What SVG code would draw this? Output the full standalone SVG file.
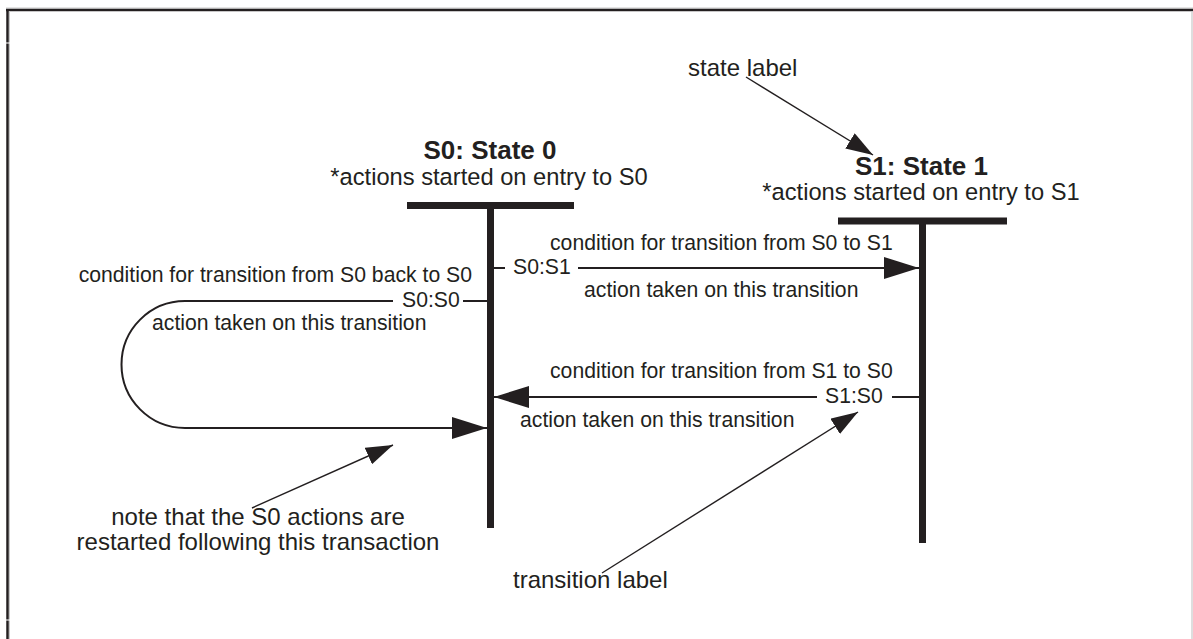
<svg xmlns="http://www.w3.org/2000/svg" width="1193" height="639" viewBox="0 0 1193 639">
<style>
  text { font-family: "Liberation Sans", Arial, sans-serif; fill: #231f20; }
  .lbl { font-size: 21.2px; }
  .ann { font-size: 24px; }
  .entry { font-size: 23.7px; text-anchor: middle; }
  .title { font-size: 26px; font-weight: bold; text-anchor: middle; }
  .bar { fill: #231f20; }
  .conn { fill: none; stroke: #231f20; stroke-width: 2; }
  .thin { fill: none; stroke: #231f20; stroke-width: 1.4; }
</style>
<defs>
  <marker id="big" markerUnits="userSpaceOnUse" markerWidth="35" markerHeight="22" refX="35" refY="11" orient="auto">
    <path d="M0,0 L35,11 L0,22 z" fill="#231f20"/>
  </marker>
  <marker id="small" markerUnits="userSpaceOnUse" markerWidth="27" markerHeight="18" refX="27" refY="9" orient="auto">
    <path d="M0,0 L27,9 L0,18 z" fill="#231f20"/>
  </marker>
</defs>
<rect x="0" y="0" width="1193" height="639" fill="#ffffff"/>
<g id="frame">
  <line x1="6" y1="8" x2="1193" y2="8" stroke="#c8c8c8" stroke-width="1"/>
  <line x1="6" y1="10" x2="1193" y2="10" stroke="#231f20" stroke-width="2.5"/>
  <line x1="7.5" y1="9" x2="7.5" y2="639" stroke="#231f20" stroke-width="2.5"/>
  <line x1="9.5" y1="11" x2="9.5" y2="639" stroke="#c8c8c8" stroke-width="1"/>
  <line x1="1192" y1="11" x2="1192" y2="639" stroke="#c8c8c8" stroke-width="1.2"/>
  <rect x="6" y="42.5" width="4" height="1" fill="#ffffff"/>
  <rect x="6" y="619.5" width="4" height="1" fill="#ffffff"/>
</g>
<g id="S0">
  <rect class="bar" x="407" y="202" width="167" height="7"/>
  <rect class="bar" x="487" y="205" width="7" height="323"/>
  <text class="title" x="490" y="159">S0: State 0</text>
  <text class="entry" x="489" y="185">*actions started on entry to S0</text>
</g>
<g id="S1">
  <rect class="bar" x="838" y="217.5" width="169" height="7"/>
  <rect class="bar" x="919" y="221" width="7" height="322"/>
  <text class="title" x="921.5" y="175">S1: State 1</text>
  <text class="entry" x="921" y="200">*actions started on entry to S1</text>
</g>
<g id="connectors">
  <line class="conn" x1="494" y1="268" x2="505" y2="268"/>
  <line class="conn" x1="578" y1="268" x2="919" y2="268" marker-end="url(#big)"/>
  <line class="conn" x1="487" y1="301" x2="463" y2="301"/>
  <path class="conn" d="M393,301 L185,301 A63.5,63.5 0 0 0 185,428 L487,428" marker-end="url(#big)"/>
  <line class="conn" x1="919" y1="397" x2="892" y2="397"/>
  <line class="conn" x1="817" y1="397" x2="494" y2="397" marker-end="url(#big)"/>
  <line class="thin" x1="746" y1="77" x2="873" y2="155" marker-end="url(#small)"/>
  <line class="thin" x1="252" y1="508" x2="393" y2="445" marker-end="url(#small)"/>
  <line class="thin" x1="602" y1="573" x2="858" y2="412" marker-end="url(#small)"/>
</g>
<g id="transition-labels">
  <text class="lbl" x="550" y="250">condition for transition from S0 to S1</text>
  <text class="lbl" x="513" y="274">S0:S1</text>
  <text class="lbl" x="584" y="297">action taken on this transition</text>
  <text class="lbl" x="472" y="282" text-anchor="end">condition for transition from S0 back to S0</text>
  <text class="lbl" x="402" y="307">S0:S0</text>
  <text class="lbl" x="152" y="330">action taken on this transition</text>
  <text class="lbl" x="550" y="378">condition for transition from S1 to S0</text>
  <text class="lbl" x="825" y="403">S1:S0</text>
  <text class="lbl" x="520" y="427">action taken on this transition</text>
</g>
<g id="annotations">
  <text class="ann" x="688" y="76">state label</text>
  <text class="ann" x="513" y="588">transition label</text>
  <text class="ann" x="258" y="525" text-anchor="middle">note that the S0 actions are</text>
  <text class="ann" x="258" y="550" text-anchor="middle">restarted following this transaction</text>
</g>
</svg>
